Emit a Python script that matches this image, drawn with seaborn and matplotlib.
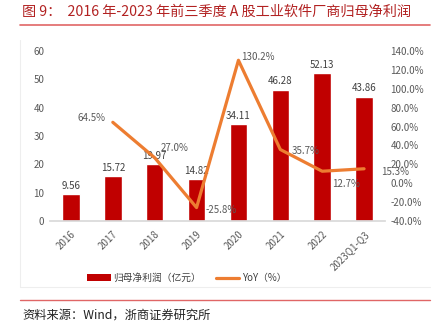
import matplotlib
matplotlib.use("Agg")
import matplotlib.pyplot as plt
import seaborn as sns
import pandas as pd
import numpy as np
from matplotlib.patches import Patch
from matplotlib.lines import Line2D

categories = ["2016", "2017", "2018", "2019", "2020", "2021", "2022", "2023Q1-Q3"]
profit = [9.56, 15.72, 19.97, 14.82, 34.11, 46.28, 52.13, 43.86]
yoy_categories = ["2017", "2018", "2019", "2020", "2021", "2022", "2023Q1-Q3"]
yoy = [64.5, 27.0, -25.8, 130.2, 35.7, 12.7, 15.3]
left_ticks = [0, 10, 20, 30, 40, 50, 60]
right_ticks = [-40, -20, 0, 20, 40, 60, 80, 100, 120, 140]

sns.set_theme(style="white")
plt.rcParams['font.family'] = ['Noto Sans CJK SC', 'DejaVu Sans']

fig = plt.figure(figsize=(4.35, 3.31), dpi=100)
ax = fig.add_axes([50/435, 110/331, 335/435, 170/331])

df = pd.DataFrame({"cat": categories, "val": profit})
sns.barplot(data=df, x="cat", y="val", ax=ax, color="#C00000", width=0.42,
            saturation=1, order=categories)
ax.set_xlim(-0.5, len(categories) - 0.5)
ax.set_ylim(0, 60)
ax.set_yticks(left_ticks)
ax.set_yticklabels([str(t) for t in left_ticks], fontsize=7, color="#595959")
ax.set_xlabel("")
ax.set_ylabel("")
ax.set_xticks(range(len(categories)))
ax.set_xticklabels(categories, rotation=45, fontsize=7, color="#595959",
                   ha="right", rotation_mode="anchor")
for s in ["top", "right", "left"]:
    ax.spines[s].set_visible(False)
ax.spines["bottom"].set_color("#D9D9D9")
ax.tick_params(axis="both", length=0, pad=4)
ax.tick_params(axis="x", pad=6)
for i, v in enumerate(profit):
    ax.text(i, v + 1.2, f"{v:.2f}", ha="center", va="bottom", fontsize=7, color="#404040")

ax2 = ax.twinx()
xpos = [categories.index(c) for c in yoy_categories]
ldf = pd.DataFrame({"x": xpos, "y": yoy})
sns.lineplot(data=ldf, x="x", y="y", ax=ax2, color="#ED7D31", linewidth=2.3)
ax2.set_ylim(-40, 140)
ax2.set_yticks(right_ticks)
ax2.set_yticklabels([f"{t:.1f}%" for t in right_ticks], fontsize=7, color="#595959")
ax2.set_ylabel("")
ax2.set_xlabel("")
for s in ["top", "right", "left", "bottom"]:
    ax2.spines[s].set_visible(False)
ax2.tick_params(axis="both", length=0, pad=4)
ax2.set_xlim(-0.5, len(categories) - 0.5)

offsets = {
    "2017": (-15, 3),
    "2018": (14, 7),
    "2019": (18, -2),
    "2020": (14, 2),
    "2021": (18, -1),
    "2022": (17, -9),
    "2023Q1-Q3": (22, -2),
}
for c, x, y in zip(yoy_categories, xpos, yoy):
    dx, dy = offsets[c]
    ax2.annotate(f"{y:.1f}%", (x, y), xytext=(dx, dy), textcoords="offset points",
                 ha="center", va="center", fontsize=7, color="#595959")

handles = [Patch(facecolor="#C00000", edgecolor="none"),
           Line2D([0], [0], color="#ED7D31", linewidth=2.3)]
fig.legend(handles, ["归母净利润（亿元）", "YoY（%）"], loc="center",
           bbox_to_anchor=(187/435, 1 - 278/331), ncol=2, frameon=False,
           fontsize=7, labelcolor="#404040", handlelength=2.4, columnspacing=1.5,
           handletextpad=0.3)

# title and decorations
fig.text(22/435, 1 - 12/331, "图 9：  2016 年-2023 年前三季度 A 股工业软件厂商归母净利润",
         fontsize=10.2, color="#B22222", va="center", ha="left")
fig.add_artist(Line2D([20/435, 430/435], [1 - 25/331, 1 - 25/331], color="#E06666",
                      linewidth=1.2))
fig.add_artist(Line2D([20/435, 430/435], [1 - 300/331, 1 - 300/331], color="#E06666",
                      linewidth=1.0))
fig.add_artist(Line2D([20/435, 20/435], [1 - 287/331, 1 - 40/331], color="#EEEEEE",
                      linewidth=0.8))
fig.add_artist(Line2D([20/435, 430/435], [1 - 287/331, 1 - 287/331], color="#EEEEEE",
                      linewidth=0.8))
fig.text(22/435, 1 - 315/331, "资料来源：Wind，浙商证券研究所", fontsize=8.8,
         color="#222222", va="center", ha="left")

fig.savefig("out.png", dpi=100)
